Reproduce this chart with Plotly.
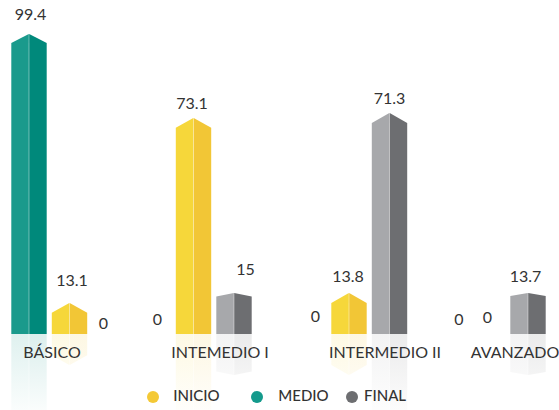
import plotly.graph_objects as go

# ---- data ----
categories = ["BÁSICO", "INTEMEDIO I", "INTERMEDIO II", "AVANZADO"]
series_names = ["INICIO", "MEDIO", "FINAL"]
# printed values, per category
medio_labels = ["99.4", "0", "0", "0"]
inicio_labels = ["13.1", "73.1", "13.8", "0"]
final_labels = ["0", "15", "71.3", "13.7"]
# drawn heights, per category (as measured on the bars)
medio_values = [99.4, 0, 0, 0]
inicio_values = [10.3, 71.6, 13.6, 0]
final_values = [0, 13.6, 73.2, 13.6]

# ---- layout / style constants ----
W, H = 559, 410
BASE_PX = 334
PX_PER_UNIT = 3.018
GROUP_X = [69.5, 193.5, 349, 487.5]
TICK_X = [52, 220, 385, 515]
PITCH = 40.5
HALF = 17.7
SLOT = {"MEDIO": -1, "INICIO": 0, "FINAL": 1}
COL = {
    "INICIO": ("#F6D73A", "#F2C636", "#F4C936"),
    "MEDIO": ("#1A9A8C", "#00897B", "#149A8C"),
    "FINAL": ("#A7A8AB", "#6D6E71", "#6D6E71"),
}
ROOF = {"INICIO": [3.3, 3.3, 3.3, 0], "MEDIO": [3.0, 0, 0, 0], "FINAL": [0, 1.2, 3.3, 1.0]}
VALUES = {"INICIO": inicio_values, "MEDIO": medio_values, "FINAL": final_values}
LABELS = {"INICIO": inicio_labels, "MEDIO": medio_labels, "FINAL": final_labels}
# label centre offset from the slot centre (px) and label centre height above baseline (px)
LABEL_DX = {"INICIO": [2.5, -1.5, -1, 0], "MEDIO": [1.5, 4.5, 7, 12], "FINAL": [-6.5, 11.5, 0, -2.5]}
LABEL_H = {"INICIO": [52, 229, 56, 15], "MEDIO": [318, 13, 16, 13], "FINAL": [9, 63, 234, 56]}
# legend key placement (marker centre, text centre)
LEGEND_MARK_X = {"INICIO": 153, "MEDIO": 257, "FINAL": 352}
LEGEND_TEXT_X = {"INICIO": 196.5, "MEDIO": 303.5, "FINAL": 385}
LEGEND_PX = 397


def rgba(hex_c, a):
    r, g, b = int(hex_c[1:3], 16), int(hex_c[3:5], 16), int(hex_c[5:7], 16)
    return f"rgba({r},{g},{b},{a})"


fig = go.Figure()
for name in series_names:
    left_c, right_c, _ = COL[name]
    for i, v in enumerate(VALUES[name]):
        if v <= 0:
            continue
        c = GROUP_X[i] + SLOT[name] * PITCH
        shoulder = v - ROOF[name][i]
        for x0, x1, col, is_left in ((c - HALF, c - 0.2, left_c, True), (c + 0.2, c + HALF, right_c, False)):
            inner = x1 if is_left else x0
            outer = x0 if is_left else x1
            xs = [inner, outer, outer, inner, inner]
            fig.add_trace(go.Scatter(
                x=xs, y=[v, shoulder, 0, 0, v], mode="lines", fill="toself", fillcolor=col,
                line=dict(width=0), hoverinfo="skip", showlegend=False))
            fig.add_trace(go.Scatter(
                x=xs, y=[-v, -shoulder, 0, 0, -v], mode="lines", fill="toself",
                fillgradient=dict(type="vertical", start=0, stop=-25.2,
                                  colorscale=[[0, rgba(col, 0.14)], [1, rgba(col, 0.02)]]),
                line=dict(width=0), hoverinfo="skip", showlegend=False))

# value labels
for name in series_names:
    xs, ys, ts = [], [], []
    for i, t in enumerate(LABELS[name]):
        xs.append(GROUP_X[i] + SLOT[name] * PITCH + LABEL_DX[name][i])
        ys.append(LABEL_H[name][i] / PX_PER_UNIT)
        ts.append(t)
    fig.add_trace(go.Scatter(
        x=xs, y=ys, text=ts, mode="text", textposition="middle center",
        textfont=dict(family="Lato", size=16, color="#333333"),
        hoverinfo="skip", showlegend=False))

# legend keys
leg_y = (BASE_PX - LEGEND_PX) / PX_PER_UNIT
for name in series_names:
    fig.add_trace(go.Scatter(
        x=[LEGEND_MARK_X[name]], y=[leg_y], name=name, mode="markers",
        marker=dict(color=COL[name][2], size=12, symbol="circle"), showlegend=False))
    fig.add_trace(go.Scatter(
        x=[LEGEND_TEXT_X[name]], y=[leg_y], text=[name], mode="text", textposition="middle center",
        textfont=dict(family="Lato", size=15, color="#333333", weight=500),
        hoverinfo="skip", showlegend=False))

fig.update_layout(
    width=W, height=H, margin=dict(l=0, r=0, t=0, b=0, pad=0),
    paper_bgcolor="white", plot_bgcolor="rgba(0,0,0,0)", showlegend=False,
    xaxis=dict(range=[0, W], showgrid=False, zeroline=False, showline=False, automargin=False,
               tickmode="array", tickvals=TICK_X, ticktext=categories, ticks="",
               ticklabelstandoff=7, ticklabeloverflow="allow", anchor="free",
               position=(H - BASE_PX) / H, domain=[0, 1],
               tickfont=dict(family="Lato", size=16, color="#333333")),
    yaxis=dict(range=[-(H - BASE_PX) / PX_PER_UNIT, BASE_PX / PX_PER_UNIT], domain=[0, 1],
               visible=False, automargin=False),
)
fig.write_html("out.html", post_script="document.body.style.margin='0';",
               config=dict(displayModeBar=False))
